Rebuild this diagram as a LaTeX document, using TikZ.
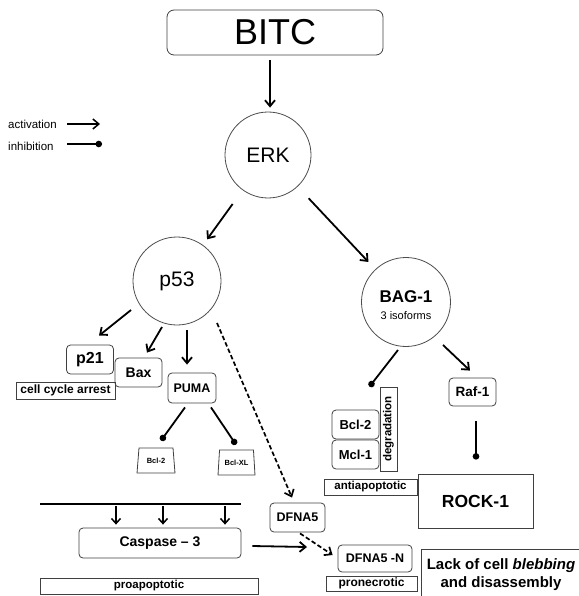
\documentclass[tikz,border=0pt]{standalone}
\usepackage{fontspec}
\setmainfont{Liberation Sans}
\usetikzlibrary{arrows.meta,shapes.geometric,calc}
\newcommand\fsz[1]{\fontsize{#1}{#1}\selectfont}
\begin{document}
\begin{tikzpicture}[x=1pt,y=-1pt,
 act/.style={-{Straight Barb[length=6pt,width=10pt]}, line width=1.8pt},
 actsmall/.style={-{Straight Barb[length=5pt,width=9pt]}, line width=1.5pt},
 inh/.style={-{Circle[length=6.5pt]}, line width=1.8pt},
 dsh/.style={act, line width=1.7pt, dash pattern=on 4.5pt off 2.5pt},
 rbox/.style={draw=black!75, line width=0.8pt, rounded corners=4pt, inner sep=0pt},
 sbox/.style={draw=black!75, line width=0.8pt, inner sep=0pt},
 circ/.style={circle, draw=black!70, line width=0.8pt, inner sep=0pt},
 trap/.style={trapezium, trapezium stretches=true, trapezium angle=79, draw=black!75, line width=0.8pt, inner sep=0pt, font=\bfseries\fsz{7.5}}]
\useasboundingbox (0,0) rectangle (578,596);

% nodes
\node[rbox, rounded corners=7pt, minimum width=216pt, minimum height=45pt, font=\fsz{36}] (bitc) at (275,32.5) {BITC};
\node[circ, minimum size=86pt, font=\fsz{21}] (erk) at (268,155) {ERK};
\node[circ, minimum size=88pt, font=\fsz{21}] (p53) at (177,281) {p53};
\node[circ, minimum size=89pt] (bag) at (406,302) {};
\node[inner sep=0pt, font=\bfseries\fsz{17}] (bagname) at (406,297) {BAG-1};
\node[inner sep=0pt, font=\fsz{11}] (bagiso) at (406,315.5) {3 isoforms};

\node[rbox, minimum width=47pt, minimum height=29pt, font=\bfseries\fsz{16}] (p21) at (90,359.5) {p21};
\node[rbox, minimum width=47pt, minimum height=29pt, font=\bfseries\fsz{14}] (bax) at (138.5,372.5) {Bax};
\node[sbox, minimum width=99pt, minimum height=17pt, font=\bfseries\fsz{12}] (cca) at (65.5,390.5) {cell cycle arrest};
\node[rbox, minimum width=48pt, minimum height=30pt, font=\bfseries\fsz{12.5}] (puma) at (192,388) {PUMA};
\node[trap, minimum width=38pt, minimum height=25pt] (bcla) at (156,460.5) {Bcl-2};
\node[trap, minimum width=37pt, minimum height=25pt] (bclb) at (236.5,462.5) {Bcl-XL};

\node[rbox, minimum width=55pt, minimum height=29pt, font=\bfseries\fsz{12.5}] (dfna) at (297.5,517.5) {DFNA5};
\node[rbox, minimum width=74pt, minimum height=27pt, font=\bfseries\fsz{12.5}] (dfnan) at (375,558.5) {DFNA5 -N};
\node[sbox, minimum width=91pt, minimum height=15pt, font=\bfseries\fsz{12}] (pronec) at (371.5,583.5) {pronecrotic};
\node[inner sep=0pt, minimum width=172pt, minimum height=56pt] (lackbox) at (508,578) {};
\draw[draw=black!75, line width=0.8pt] (lackbox.south west) -- (lackbox.north west) -- (lackbox.north east);
\node[inner sep=0pt, align=center, font=\bfseries\fontsize{15}{17.5}\selectfont] (lack) at (501,574.5) {Lack of cell \textit{blebbing}\\and disassembly};

\node[rbox, minimum width=162pt, minimum height=30pt, font=\bfseries\fsz{14}] (casp) at (160,543) {Caspase \textendash{} 3};
\node[sbox, minimum width=218pt, minimum height=16pt, font=\bfseries\fsz{11.5}] (proapo) at (149,586) {proapoptotic};

\node[rbox, minimum width=47pt, minimum height=28pt, font=\bfseries\fsz{13.5}] (raf) at (472.5,392) {Raf-1};
\node[sbox, rotate=90, minimum width=84pt, minimum height=17pt, font=\bfseries\fsz{11.5}] (degr) at (388.5,429) {degradation};
\node[rbox, minimum width=47pt, minimum height=29pt, font=\bfseries\fsz{13}] (bclr) at (355.5,424.5) {Bcl-2};
\node[rbox, minimum width=47pt, minimum height=29pt, font=\bfseries\fsz{13}] (mcl) at (355.5,454.5) {Mcl-1};
\node[sbox, minimum width=93pt, minimum height=16pt, font=\bfseries\fsz{11.5}] (antiapo) at (370.5,487) {antiapoptotic};
\node[sbox, minimum width=115pt, minimum height=54pt, font=\bfseries\fsz{17.5}] (rock) at (475.5,501) {ROCK-1};

% legend
\node[anchor=west, inner sep=0pt, font=\fsz{11.5}] (lact) at (8,124) {activation};
\node[anchor=west, inner sep=0pt, font=\fsz{11.5}] (linh) at (8,146) {inhibition};
\draw[act, line width=1.5pt] ($(lact.west)+(59,0)$) -- ++(33,0);
\draw[inh, line width=1.5pt] ($(linh.west)+(59,-2)$) -- ++(35,0);

% connectors
\draw[act] ($(bitc.south)+(-5,5)$) -- ($(erk.north)+(2,-4)$);
\draw[act, shorten <=17pt, shorten >=7pt] (erk) -- (p53);
\draw[act, shorten <=16pt, shorten >=10pt] (erk) -- (bag);

\draw[act] ($(p53.center)+(-46,29)$) -- ($(p21.north)+(9,-9)$);
\draw[act] ($(p53.center)+(-15,46)$) -- ($(bax.north)+(8.5,-5)$);
\draw[act] ($(p53.center)+(10,49)$) -- ($(puma.north)+(-5,-8)$);
\draw[dsh] ($(p53.center)+(40,42)$) -- ($(dfna.north)+(-5.5,-5)$);

\draw[inh] ($(puma.south)+(-7,4)$) -- ($(bcla.north)+(5,-7)$);
\draw[inh] ($(puma.south)+(19,4)$) -- ($(bclb.north)+(-0.5,-5)$);

\coordinate (bar1) at (40,504);
\coordinate (bar2) at (241,504);
\draw[line width=2pt] (bar1) -- (bar2);
\draw[actsmall] ($(bar1)+(76,2)$) -- ($(casp.north)+(-44,-3)$);
\draw[actsmall] ($(bar1)+(123,2)$) -- ($(casp.north)+(3,-3)$);
\draw[actsmall] ($(bar1)+(185,2)$) -- ($(casp.north)+(65,-3)$);

\coordinate (cend) at (307,547);
\draw[act] ($(casp.east)+(11,3)$) -- (cend);
\draw[dsh] ($(dfna.south)+(2.5,1)$) -- ($(dfnan.west)+(-5,-3.5)$);

\draw[inh] ($(bag.center)+(-8,48)$) -- ($(bclr.north)+(14,-23)$);
\draw[act] ($(bag.center)+(37,43)$) -- ($(raf.north)+(-2.5,-7)$);
\draw[inh] ($(raf.south)+(3.5,15)$) -- ($(rock.north)+(0.5,-14)$);
\end{tikzpicture}
\end{document}
